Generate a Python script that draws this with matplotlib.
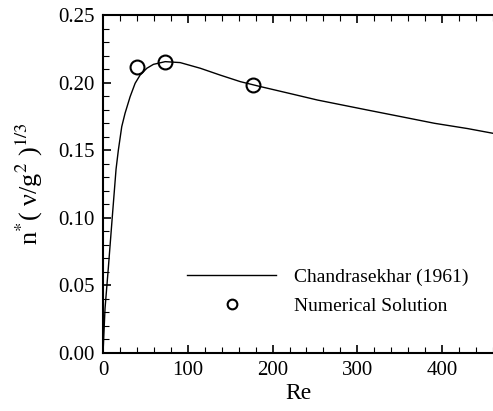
import matplotlib
matplotlib.use("Agg")
import matplotlib.pyplot as plt
from matplotlib.ticker import MultipleLocator

plt.rcParams.update({
    "font.family": ["Liberation Serif", "DejaVu Serif"],
    "mathtext.fontset": "stix",
    "xtick.direction": "in",
    "ytick.direction": "in",
})

# Chandrasekhar (1961) curve
re_curve = [0, 0.4, 2.4, 6.3, 11, 15.4, 18.1, 22.1, 26, 32, 37.9, 43.8, 51.7,
            59.5, 73.4, 91, 114.8, 138, 162, 186, 220, 253, 312, 350, 391,
            430, 460]
n_curve = [0.0, 0.005, 0.033, 0.063, 0.101, 0.136, 0.150, 0.1674, 0.1773,
           0.1896, 0.1995, 0.2056, 0.2106, 0.2135, 0.2155, 0.2148, 0.2106,
           0.2056, 0.2007, 0.197, 0.192, 0.1871, 0.1797, 0.175, 0.1699,
           0.166, 0.1625]

# numerical solution points
re_num = [40, 73, 177]
n_num = [0.2118, 0.2152, 0.198]

fig = plt.figure(figsize=(4.93, 4.11), dpi=100)
ax = fig.add_axes([103 / 493, 58 / 411, 390 / 493, 338 / 411])

ax.plot(re_curve, n_curve, "-", color="black", linewidth=1.0,
        label="Chandrasekhar (1961)")
ax.plot(re_num, n_num, "o", color="black", markerfacecolor="none",
        markersize=10, markeredgewidth=1.5, linestyle="none",
        label="Numerical Solution")

ax.set_xlim(0, 460)
ax.set_ylim(0, 0.25)
ax.xaxis.set_major_locator(MultipleLocator(100))
ax.xaxis.set_minor_locator(MultipleLocator(20))
ax.yaxis.set_major_locator(MultipleLocator(0.05))
ax.yaxis.set_minor_locator(MultipleLocator(0.01))
ax.yaxis.set_major_formatter(plt.FormatStrFormatter("%.2f"))
ax.tick_params(which="both", top=True, right=False, labelsize=15, pad=6)
ax.tick_params(which="major", length=6, width=1.2)
ax.tick_params(which="minor", length=4, width=0.8)

for side in ["left", "bottom", "top"]:
    ax.spines[side].set_linewidth(1.5)
ax.spines["right"].set_visible(False)

ax.set_xlabel("Re", fontsize=17, labelpad=2)
ax.set_ylabel("n$^{*}$( \u03bd/g$^{2}$ )$^{1/3}$", fontsize=19, labelpad=4)
ax.yaxis.set_label_coords(-0.148, 0.50)

ax.legend(loc="lower left", bbox_to_anchor=(0.17, 0.06), frameon=False,
          fontsize=14, handlelength=4.6, markerscale=0.7, handletextpad=0.9,
          labelspacing=0.6)

fig.savefig("out.png", dpi=100)
